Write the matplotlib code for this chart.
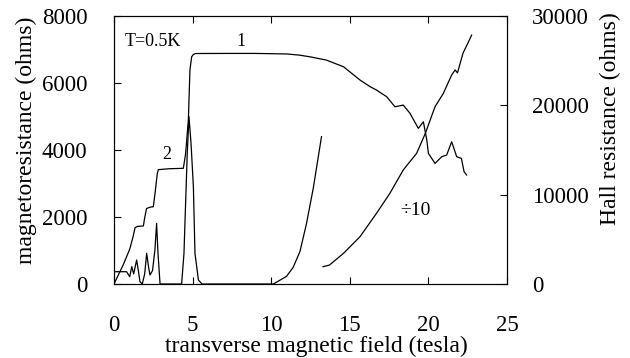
import matplotlib
matplotlib.use("Agg")
from matplotlib import pyplot as plt

plt.rcParams['font.family'] = ['Liberation Serif', 'DejaVu Serif']

# Hall resistance (right axis, ohms) vs field (tesla)
hall_b = [0.0, 0.6, 1.0, 1.2, 1.34, 1.5, 1.87, 1.95, 2.07, 2.3, 2.5, 2.6, 2.75, 2.82,
          3.5, 4.41, 4.55, 4.73, 4.83, 4.94, 5.05, 5.2, 7.0, 9.0, 11.0, 11.8, 12.47,
          13.5, 14.6, 15.65, 16.3, 16.7, 17.35, 17.87, 18.4, 18.83, 19.36, 19.68,
          19.9, 20.0, 20.42, 20.85, 21.16, 21.48, 21.8, 22.1, 22.27, 22.43]
hall_r = [0, 2200, 3900, 5200, 6300, 6450, 6500, 7400, 8450, 8600, 8650, 10000, 12300, 12800,
          12900, 12950, 14500, 18350, 23950, 25430, 25700, 25800, 25810, 25810, 25750, 25620, 25430,
          25070, 24320, 22830, 22080, 21710, 20960, 19840, 20030, 19100, 17420, 18160,
          16110, 14620, 13500, 14250, 14430, 15920, 14250, 14060, 12570, 12200]

# magnetoresistance (left axis, ohms)
rxx_b = [0.0, 0.8, 1.0, 1.13, 1.25, 1.44, 1.55, 1.65, 1.8, 1.95, 2.08, 2.2, 2.29, 2.45,
         2.6, 2.71, 2.8, 2.93, 3.1, 4.3, 4.45, 4.52, 4.66, 4.77, 4.9, 5.05, 5.15, 5.37,
         5.6, 8.0, 10.14, 10.98, 11.4, 11.83, 12.25, 12.68, 13.2]
rxx_r = [367, 367, 218, 517, 300, 716, 400, 70, 0, 300, 916, 500, 269, 400,
         1000, 1810, 900, 0, 0, 0, 900, 1910, 3900, 4995, 4200, 2900, 916, 120,
         0, 0, 0, 230, 500, 970, 1815, 2870, 4400]

# magnetoresistance divided by 10 above 13 T
div_b = [13.3, 13.7, 14.6, 15.65, 16.7, 17.55, 18.4, 19.25, 19.8, 20.42, 20.95, 21.48,
         21.7, 21.85, 22.2, 22.5, 22.75]
div_r = [517, 564, 916, 1412, 2110, 2707, 3403, 3900, 4490, 5290, 5690, 6240,
         6390, 6300, 6890, 7180, 7430]

fs = 16.5
lfs = 17
fig = plt.figure(figsize=(6.3, 3.58), dpi=100)
ax = fig.add_axes([114/630, 74/358, 393/630, 268/358])
ax2 = ax.twinx()

ax.plot(rxx_b, rxx_r, color='black', lw=0.9)
ax.plot(div_b, div_r, color='black', lw=0.9)
ax2.plot(hall_b, hall_r, color='black', lw=0.9)

ax.set_xlim(0, 25)
ax.set_ylim(0, 8000)
ax2.set_ylim(0, 30000)
ax.set_xticks([0, 5, 10, 15, 20, 25])
ax.set_yticks([0, 2000, 4000, 6000, 8000])
ax2.set_yticks([0, 10000, 20000, 30000])

ax.tick_params(axis='x', direction='in', top=True, length=5, pad=22.5, labelsize=fs)
ax.tick_params(axis='y', direction='in', right=False, length=5, pad=19, labelsize=fs)
ax2.tick_params(axis='y', direction='in', length=5, pad=18, labelsize=fs)

ax.set_xlabel('transverse magnetic field (tesla)', fontsize=lfs)
ax.xaxis.set_label_coords(0.515, -0.195)
ax.set_ylabel('magnetoresistance (ohms)', fontsize=lfs)
ax.yaxis.set_label_coords(-0.195, 0.537)
ax2.set_ylabel('Hall resistance (ohms)', fontsize=lfs)
ax2.yaxis.set_label_coords(1.237, 0.616)

ax.text(2.5, 7250, 'T=0.5K', fontsize=13, ha='center', va='center')
ax.text(8.1, 7250, '1', fontsize=13, ha='center', va='center')
ax.text(3.37, 3880, '2', fontsize=13, ha='center', va='center')
ax.text(19.15, 2200, '\u00f710', fontsize=14, ha='center', va='center')

for s in ax.spines.values():
    s.set_linewidth(0.8)

fig.savefig('out.png', dpi=100)
